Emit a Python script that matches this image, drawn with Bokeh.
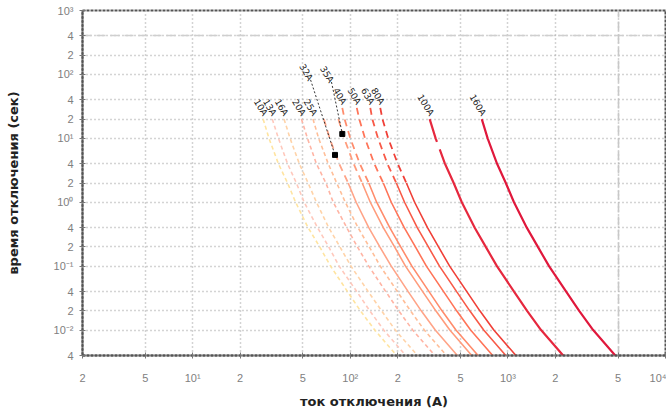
from bokeh.plotting import figure
from bokeh.models import FixedTicker, Grid, Range1d
from bokeh.core.properties import value
from bokeh.embed import file_html
from bokeh.resources import INLINE

nan = float("nan")

# time axis values (s) at which each curve is read
times = [30, 20, 10, 4, 2, 1, 0.4, 0.2, 0.1, 0.04, 0.02, 0.01, 0.004]

# currents (A) for each fuse curve
i_10A = [nan, 28, 30.5, 35, 40, 45, 54, 64, 75, 96, 116, 143, 197]
i_13A = [nan, 32, 35, 40, 45.5, 51, 62, 73, 85, 110, 133, 163, 225]
i_16A = [nan, 38, 41.5, 47.5, 54, 61, 73, 86, 101, 130, 158, 193, 267]
i_20A = [nan, 49, 53.5, 61, 70, 78, 95, 111, 131, 168, 203, 249, 344]
i_25A = [nan, 58, 63, 72.5, 82, 93, 112, 132, 155, 199, 241, 295, 408]
i_32A = [nan, 68, 74, 85, 97, 109, 131, 154, 182, 233, 282, 346, 478]
i_35A = [nan, 84, 91.5, 105, 119, 134, 162, 191, 224, 288, 349, 428, 590]
i_40A = [89, 92, 100, 115, 131, 147, 178, 209, 246, 316, 382, 468, 647]
i_50A = [110, 114, 124, 142, 162, 182, 220, 259, 304, 391, 473, 580, 801]
i_63A = [134, 138, 150, 172, 196, 221, 266, 313, 368, 473, 573, 702, 970]
i_80A = [155, 160, 174, 200, 227, 256, 309, 363, 427, 549, 664, 814, 1125]
i_100A = [nan, 319, 348, 399, 453, 510, 616, 724, 852, 1094, 1324, 1624, 2243]
i_160A = [nan, 683, 744, 854, 970, 1093, 1318, 1550, 1824, 2343, 2834, 3476, 4801]

names = ["10A", "13A", "16A", "20A", "25A", "32A", "35A", "40A", "50A", "63A", "80A", "100A", "160A"]
series = [i_10A, i_13A, i_16A, i_20A, i_25A, i_32A, i_35A, i_40A, i_50A, i_63A, i_80A, i_100A, i_160A]

# leader-line labels (two curves labelled above the bundle)
leader_names = ["32A", "35A"]
leader_label_t = [82, 76]
leader_label_i = [56, 76]
leader_dot_t = [5.5, 11.7]
leader_dot_i = [80, 89]

y_ticks = [0.004, 0.01, 0.02, 0.04, 0.1, 0.2, 0.4, 1, 2, 4, 10, 20, 40, 100, 200, 400, 1000]
y_labels = ["4", "10⁻²", "2", "4", "10⁻¹", "2", "4", "10⁰", "2", "4", "10¹", "2", "4", "10²", "2", "4", "10³"]
x_ticks = [2, 5, 10, 20, 50, 100, 200, 500, 1000, 2000, 5000, 10000]
x_labels = ["2", "5", "10¹", "2", "5", "10²", "2", "5", "10³", "2", "5", "10⁴"]

colors = ["#FFE4A0", "#FFC8BC", "#FFD3A8", "#FFB4A4", "#FFBE98", "#FFA488", "#FF9C7C",
          "#FF8C6C", "#FF7458", "#F85A48", "#F04038", "#E6283E", "#E0183C"]
styles = ["pale", "pale", "pale", "pale", "pale", "mid", "mid", "mid", "mid", "mid", "mid", "big", "full"]

p = figure(width=666, height=415, x_axis_type="log", y_axis_type="log",
           x_range=Range1d(2, 10000), y_range=Range1d(0.004, 1000),
           output_backend="svg", toolbar_location=None,
           min_border_left=82, min_border_right=1, min_border_top=10, min_border_bottom=60)
p.background_fill_color = "white"
p.border_fill_color = "white"
p.outline_line_color = "#555555"
p.outline_line_width = 2
p.outline_line_dash = "3 1"

# axes
p.xaxis.ticker = FixedTicker(ticks=x_ticks)
p.yaxis.ticker = FixedTicker(ticks=y_ticks)
p.xaxis.major_label_overrides = dict(zip(x_ticks, x_labels))
p.yaxis.major_label_overrides = dict(zip(y_ticks, y_labels))
for ax in (p.xaxis, p.yaxis):
    ax.axis_line_color = "#555555"
    ax.axis_line_width = 2
    ax.axis_line_dash = "3 1"
    ax.major_tick_in = 3
    ax.major_tick_out = 3
    ax.major_tick_line_color = "#777777"
    ax.minor_tick_line_color = None
    ax.major_label_text_color = "#808080"
    ax.major_label_text_font = "Liberation Sans"
    ax.major_label_text_font_size = "11px"
    ax.axis_label_text_font = "DejaVu Sans"
    ax.axis_label_text_font_style = "bold"
    ax.axis_label_text_color = "#222222"
    ax.axis_label_text_font_size = "13px"
p.xaxis.axis_label = "ток отключения (А)"
p.yaxis.axis_label = "время отключения (сек)"
p.xaxis.major_label_standoff = 13
p.yaxis.major_label_standoff = 6
p.xaxis.axis_label_standoff = 7
p.yaxis.axis_label_standoff = 30

# grid
for g in (p.xgrid, p.ygrid):
    g.grid_line_color = "#a8a8a8"
    g.grid_line_dash = "1 3"
    g.grid_line_width = 1.5
p.add_layout(Grid(dimension=1, ticker=FixedTicker(ticks=[400]),
                  grid_line_color="#cfcfcf", grid_line_dash="9 5", grid_line_width=1.6))
p.add_layout(Grid(dimension=0, ticker=FixedTicker(ticks=[5000]),
                  grid_line_color="#c8c8c8", grid_line_dash="9 4", grid_line_width=1.6))

# curves
for name, cur, col, st in zip(names, series, colors, styles):
    if st == "pale":
        p.line(cur, times, line_color=col, line_width=1.6, line_dash="4 3")
    elif st == "mid":
        p.line(cur[:5], times[:5], line_color=col, line_width=1.8, line_dash="7 5")
        p.line(cur[4:], times[4:], line_color=col, line_width=1.6)
    elif st == "big":
        p.line(cur[:4], times[:4], line_color=col, line_width=2.2, line_dash="24 8")
        p.line(cur[3:], times[3:], line_color=col, line_width=2.2)
    else:
        p.line(cur, times, line_color=col, line_width=2.2)

# curve labels at top of each curve
lab_x, lab_y, lab_t = [], [], []
for name, cur in zip(names, series):
    if name in leader_names:
        continue
    k = 0 if cur[0] == cur[0] else 1
    lab_x.append(cur[k]); lab_y.append(times[k]); lab_t.append(name)
p.text(lab_x, lab_y, text=lab_t, angle=-1.03, text_align="right", text_baseline="middle",
       x_offset=2, y_offset=-4, text_font=value("DejaVu Sans"), text_font_size="9px",
       text_color="#222222")

# leader labels, lines and dots
p.text(leader_label_i, leader_label_t, text=leader_names, angle=-1.03, text_align="right",
       text_baseline="middle", text_font=value("DejaVu Sans"), text_font_size="9px",
       text_color="#222222")
p.segment(leader_label_i, leader_label_t, leader_dot_i, leader_dot_t,
          line_color="#333333", line_width=1, line_dash="2 2")
p.scatter(leader_dot_i, leader_dot_t, marker="square", size=5, color="black")

open("out.html", "w").write(file_html(p, INLINE))
